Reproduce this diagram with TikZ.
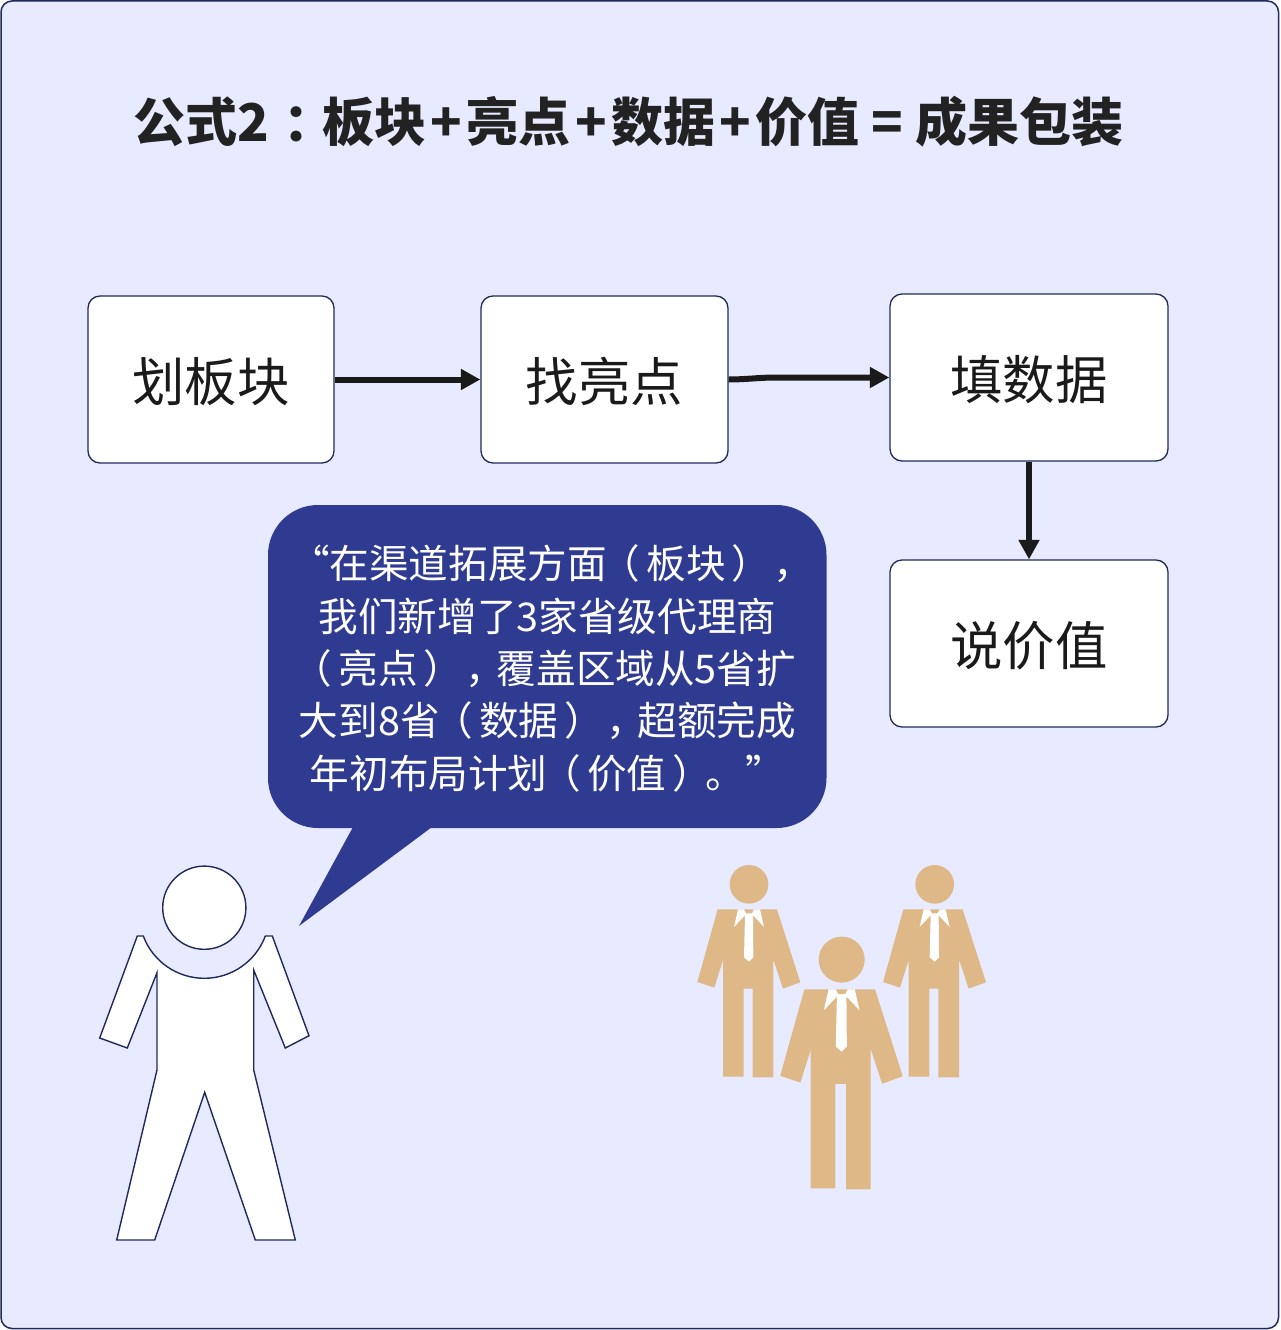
\documentclass[tikz,border=0pt]{standalone}
\usepackage{fontspec}
\setmainfont{Noto Sans CJK SC}
\usetikzlibrary{arrows.meta}
\definecolor{panelbg}{HTML}{E8EBFF}
\definecolor{navyline}{HTML}{1F2A5A}
\definecolor{bubblecol}{HTML}{2E3B90}
\definecolor{suitcol}{HTML}{DEB887}
\definecolor{inkcol}{HTML}{1A1A1A}
\definecolor{titlecol}{HTML}{222222}
\newcommand{\boxtxt}[1]{\raisebox{-2pt}[\height][\depth]{#1}}
\newcommand{\lpar}{\kern-6pt（\kern6pt}
\newcommand{\rpar}{\kern6pt）\kern-6pt}
\newcommand{\cmma}{\kern8pt，\kern-8pt}
\newcommand{\tplus}{\kern4.5pt+\kern4.5pt}
\tikzset{
  stepbox/.style={draw=navyline,line width=1.3pt,fill=white,rounded corners=12pt,minimum height=167pt,inner sep=0pt,text=inkcol,font=\fontsize{52.4pt}{60pt}\selectfont},
  flowline/.style={draw=inkcol,line width=6pt,-{Triangle[length=19.5pt,width=20pt]}},
  figline/.style={draw=navyline,line width=1.4pt,fill=white,line join=miter},
  pics/suitman/.style={code={
    \fill[suitcol] (0,-75) circle (58);
    \fill[suitcol] (-94,0)--(84,0)--(154,219)--(102,238)--(73,150)--(73,504)--(11,504)--(11,238)--(-16,238)--(-16,502)--(-78,502)--(-78,152)--(-104,235)--(-155,218)--cycle;
    \fill[white] (-33,0)--(-15,0)--(-9,12)--(9,12)--(15,0)--(33,0)--(45,53)--(12,18)--(13,144)--(0,157)--(-15,144)--(-12,18)--(-45,53)--cycle;
  }}
}
\begin{document}
\begin{tikzpicture}[x=1pt,y=-1pt]
\useasboundingbox (0,0) rectangle (1280,1330);
\fill[white] (0,0) rectangle (1280,1330);
\draw[navyline,fill=panelbg,line width=1.5pt,rounded corners=11pt] (1,1) rectangle (1278.5,1328.5);

\node[text=titlecol,font=\fontsize{52pt}{60pt}\bfseries\selectfont,anchor=center] (title) at (628.5,122) {公式2\kern15pt：\kern-14pt板块\tplus 亮点\tplus 数据\tplus 价值\kern12pt=\kern12pt成果包装};

\node[stepbox,minimum width=246pt] (a) at (211,379.5) {\boxtxt{划板块}};
\node[stepbox,minimum width=247pt] (b) at (604.5,379.5) {\boxtxt{找亮点}};
\node[stepbox,minimum width=278pt] (c) at (1029,377.5) {\boxtxt{填数据}};
\node[stepbox,minimum width=278pt] (d) at (1029,643.5) {\boxtxt{说价值}};

\draw[flowline] (a.east) -- (b.west);
\coordinate (bend) at (775,377.5);
\draw[flowline] (b.east) .. controls (745,379.5) and (760,377.5) .. (bend) -- (c.west);
\draw[flowline] (c.south) -- (d.north);

\fill[bubblecol,rounded corners=50pt] (268,505) rectangle (826.5,828);
\coordinate (tailtip) at (299,926);
\fill[bubblecol] (353,827) -- (tailtip) -- (432,827) -- cycle;
\node[text=white,align=center,inner sep=0pt,font=\fontsize{39.6pt}{52.3pt}\selectfont] (speech) at (547.5,668.5) {“在渠道拓展方面\lpar 板块\rpar\cmma\\我们新增了3家省级代理商\\\lpar 亮点\rpar\cmma 覆盖区域从5省扩\\大到8省\lpar 数据\rpar\cmma 超额完成\\年初布局计划\lpar 价值\rpar 。”};

\draw[figline] (204.3,907.7) circle (41.6);
\draw[figline] (137.3,936) -- (143.3,936) .. controls (152.8,961.5) and (177.1,978.3) .. (204.3,978.3) .. controls (231.5,978.3) and (255.8,961.5) .. (265.3,936) -- (272.3,936) -- (309,1035.7) -- (285.3,1048) -- (253.7,970) -- (253.7,1070) -- (295.3,1240) -- (255.3,1240) -- (204.7,1092.3) -- (154.7,1240) -- (116.7,1240) -- (157,1070) -- (157,972.7) -- (127.3,1048) -- (99.7,1038) -- cycle;

\pic[scale=0.3333] at (749,909.33) {suitman};
\pic[scale=0.3333] at (934.67,909.33) {suitman};
\pic[scale=0.3967] at (841.67,989.33) {suitman};
\end{tikzpicture}
\end{document}
